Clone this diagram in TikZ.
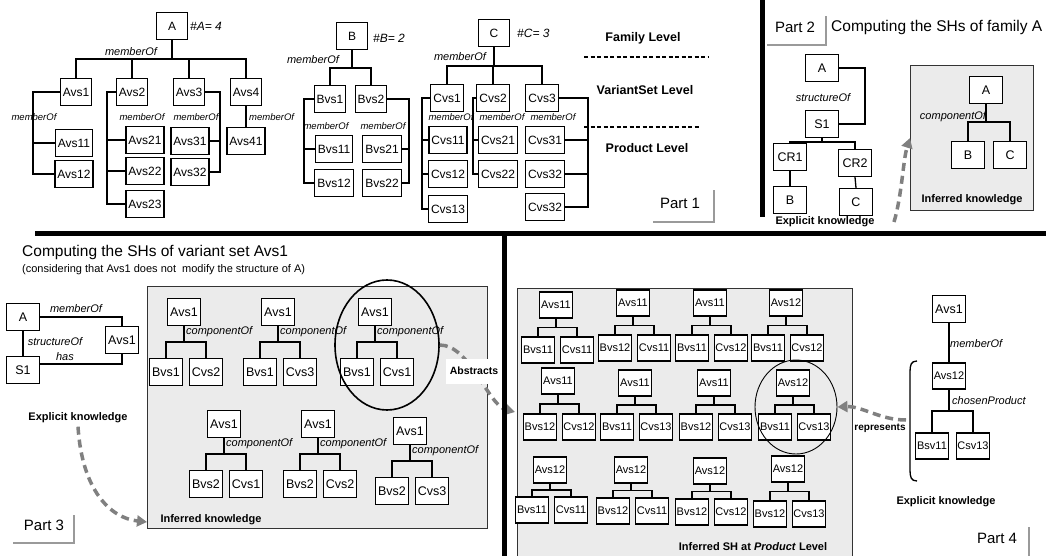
\documentclass[tikz,border=0pt]{standalone}
\usepackage{fontspec}
\setmainfont{Liberation Sans}
\usetikzlibrary{positioning,calc,arrows.meta,shapes.geometric}
\definecolor{flowgray}{HTML}{808080}
\definecolor{panelgray}{HTML}{EBEBEB}
\definecolor{tabgray}{HTML}{9A9A9A}

\begin{document}
\begin{tikzpicture}[x=1pt, y=-1pt,
  fambox/.style={draw, fill=white, line width=1.3pt, inner xsep=2.5pt, inner ysep=0pt, minimum width=31pt, minimum height=27pt, font=\fontsize{12}{14}\selectfont},
  shbox/.style={fambox, inner xsep=1.5pt, minimum width=33pt, font=\fontsize{12.5}{14}\selectfont},
  prodbox/.style={fambox, inner xsep=0.5pt, minimum width=33pt, minimum height=26pt, font=\fontsize{11}{12}\selectfont},
  link/.style={line width=1.3pt},
  rel/.style={font=\fontsize{11}{13}\selectfont\itshape, inner sep=1pt},
  relsm/.style={font=\fontsize{9.5}{11}\selectfont\itshape, inner sep=1pt},
  card/.style={font=\fontsize{12}{14}\selectfont\itshape, anchor=west, inner sep=1pt},
  lvltext/.style={font=\fontsize{12.5}{14}\selectfont\bfseries},
  lvlline/.style={line width=1.6pt, dash pattern=on 4pt off 2.5pt},
  know/.style={font=\fontsize{11}{13}\selectfont\bfseries},
  heading/.style={font=\fontsize{15.5}{17}\selectfont, anchor=west, inner sep=0pt},
  subheading/.style={font=\fontsize{11}{13}\selectfont, anchor=west, inner sep=0pt},
  partlbl/.style={font=\fontsize{15}{17}\selectfont},
  parttab/.style={tabgray, line width=2.5pt},
  divider/.style={line width=5pt},
  panel/.style={draw=black!80, fill=panelgray, line width=1pt, anchor=north west, inner sep=0pt},
  flow/.style={flowgray, line width=3.5pt, dash pattern=on 8pt off 5pt, -{Triangle[length=10pt,width=11pt]}},
  focus/.style={draw, ellipse, inner sep=0pt},
]
\useasboundingbox[fill=white] (0,0) rectangle (1046,556);

% Part 1: family A
\node[fambox] (A) at (172,26) {A};
\node[card] (cardA) at (189,26) {\#A= 4};
\node[rel] (relA) at (131,52) {memberOf};
\foreach \nm/\x in {Avs1/76, Avs2/132, Avs3/189, Avs4/246}
  \node[fambox] (\nm) at (\x,92) {\nm};
\coordinate (busA) at (172,59);
\draw[link] (A.south) -- (busA);
\draw[link] (Avs1.north) |- (busA) -| (Avs4.north);
\draw[link] (Avs2.north) -- (Avs2.north |- busA);
\draw[link] (Avs3.north) -- (Avs3.north |- busA);
\foreach \nm/\x/\y in {Avs11/74/143, Avs12/74/174, Avs21/145/140, Avs22/145/171, Avs23/145/204,
    Avs31/190/141, Avs32/190/172, Avs41/246/141}
  \node[fambox] (\nm) at (\x,\y) {\nm};
\coordinate (railA1) at (33,92);
\draw[link] (Avs1.west) -- (railA1) |- (Avs12.west);
\draw[link] (Avs11.west) -- (Avs11.west -| railA1);
\coordinate (railA2) at (107,92);
\draw[link] (Avs2.west) -- (railA2) |- (Avs23.west);
\foreach \nm in {Avs21, Avs22}
  \draw[link] (\nm.west) -- (\nm.west -| railA2);
\coordinate (railA3) at (220,92);
\draw[link] (Avs3.east) -- (railA3) |- (Avs32.east);
\draw[link] (Avs31.east) -- (Avs31.east -| railA3);
\draw[link] (Avs4.south) -- (Avs41.north);
\node[relsm] (relA1) at (34,117) {memberOf};
\node[relsm] (relA2) at (142,117) {memberOf};
\node[relsm] (relA3) at (196,117) {memberOf};
\node[relsm, anchor=west] (relA4) at (248,117) {memberOf};

% Part 1: family B
\node[fambox] (B) at (352,36) {B};
\node[card] (cardB) at (372,38) {\#B= 2};
\node[rel] (relB) at (313,60) {memberOf};
\foreach \nm/\x in {Bvs1/330, Bvs2/371}
  \node[fambox] (\nm) at (\x,99) {\nm};
\coordinate (busB) at (352,68);
\draw[link] (B.south) -- (busB);
\draw[link] (Bvs1.north) |- (busB) -| (Bvs2.north);
\foreach \nm/\x/\y in {Bvs11/334/149, Bvs12/334/183, Bvs21/382/149, Bvs22/382/183}
  \node[fambox] (\nm) at (\x,\y) {\nm};
\coordinate (railB1) at (304,99);
\draw[link] (Bvs1.west) -- (railB1) |- (Bvs12.west);
\draw[link] (Bvs11.west) -- (Bvs11.west -| railB1);
\coordinate (railB2) at (409,99);
\draw[link] (Bvs2.east) -- (railB2) |- (Bvs22.east);
\draw[link] (Bvs21.east) -- (Bvs21.east -| railB2);
\node[relsm] (relB1) at (326,126) {memberOf};
\node[relsm] (relB2) at (383,126) {memberOf};

% Part 1: family C
\node[fambox] (C) at (494,33) {C};
\node[card] (cardC) at (516,33) {\#C= 3};
\node[rel] (relC) at (460,57) {memberOf};
\foreach \nm/\x in {Cvs1/447, Cvs2/493, Cvs3/542}
  \node[fambox] (\nm) at (\x,98) {\nm};
\coordinate (busC) at (494,66);
\draw[link] (C.south) -- (busC);
\draw[link] (Cvs1.north) |- (busC) -| (Cvs3.north);
\draw[link] (Cvs2.north) -- (Cvs2.north |- busC);
\foreach \nm/\x/\y in {Cvs11/448/140, Cvs12/448/174, Cvs13/448/209, Cvs21/498/140, Cvs22/498/174,
    Cvs31/545/140, Cvs32/545/174}
  \node[fambox] (\nm) at (\x,\y) {\nm};
\node[fambox] (Cvs33) at (545,207) {Cvs32};
\coordinate (railC1) at (422,98);
\draw[link] (Cvs1.west) -- (railC1) |- (Cvs13.west);
\foreach \nm in {Cvs11, Cvs12}
  \draw[link] (\nm.west) -- (\nm.west -| railC1);
\coordinate (railC2) at (473,98);
\draw[link] (Cvs2.west) -- (railC2) |- (Cvs22.west);
\draw[link] (Cvs21.west) -- (Cvs21.west -| railC2);
\coordinate (railC3) at (588,98);
\draw[link] (Cvs3.east) -- (railC3) |- (Cvs33.east);
\foreach \nm in {Cvs31, Cvs32}
  \draw[link] (\nm.east) -- (\nm.east -| railC3);
\node[relsm] (relC1) at (451,117) {memberOf};
\node[relsm] (relC2) at (502,117) {memberOf};
\node[relsm] (relC3) at (553,117) {memberOf};

% levels
\node[lvltext] (famlvl) at (643,38) {Family Level};
\node[lvltext] (vslvl) at (645,90) {VariantSet Level};
\node[lvltext] (prodlvl) at (647,148) {Product Level};
\draw[lvlline] (584,57) -- (708,57);
\draw[lvlline] (584,127) -- (700,127);
\node[partlbl] (part1) at (680,203) {Part 1};
\draw[parttab] (653,222) -- (714,222) -- (714,190);

% Part 2
\node[partlbl] (part2) at (795,27) {Part 2};
\draw[parttab] (767,45) -- (826,45) -- (826,16);
\node[heading] (head2) at (831,27) {Computing the SHs of family A};
\node[shbox] (A2) at (822,68) {A};
\node[shbox] (S2) at (822,124) {S1};
\node[rel] (struct2) at (823,98) {structureOf};
\coordinate (brk2) at (865,68);
\draw[link] (A2.east) -- (brk2) |- (S2.east);
\node[shbox] (CR1) at (790,157) {CR1};
\node[shbox] (CR2) at (855,163) {CR2};
\coordinate (bus2) at (822,142);
\draw[link] (S2.south) -- (bus2);
\draw[link] (CR1.north) |- (bus2) -| (CR2.north);
\node[shbox] (B2) at (790,200) {B};
\node[shbox] (C2) at (856,202) {C};
\draw[link] (CR1.south) -- (B2.north);
\draw[link] (CR2.south) -- (C2.north);
\node[know] (expl2) at (825,222) {Explicit knowledge};
\node[panel, minimum width=123pt, minimum height=145pt] (inf2) at (910,65) {};
\node[shbox] (A2i) at (986,90) {A};
\node[rel] (comp2) at (953,117) {componentOf};
\coordinate (bus2i) at (986,122);
\node[shbox] (B2i) at (968,155) {B};
\node[shbox] (C2i) at (1010,155) {C};
\draw[link] (A2i.south) -- (bus2i);
\draw[link] (B2i.north) |- (bus2i) -| (C2i.north);
\node[know] (inf2txt) at (972,200) {Inferred knowledge};
\coordinate (expl2end) at (894,222);
\draw[flow] (expl2end) .. controls (902,195) and (903,160) .. (inf2.west);

% Part 3
\node[heading] (head3) at (22,252) {Computing the SHs of variant set Avs1};
\node[subheading] (sub3) at (22,270) {(considering that Avs1 does not\ \ modify the structure of A)};
\node[shbox] (A3) at (23,317) {A};
\node[shbox] (S3) at (23,370) {S1};
\node[shbox] (Avs1e) at (122,340) {Avs1};
\draw[link] (A3.south) -- (S3.north);
\draw[link] (A3.east) -| (Avs1e.north);
\draw[link] ([yshift=6pt]S3.east) -| (Avs1e.south);
\node[rel] (struct3) at (55,342) {structureOf};
\node[rel] (member3) at (76,309) {memberOf};
\node[rel] (has3) at (65,357) {has};
\node[know] (expl3) at (78,418) {Explicit knowledge};
\node[panel, minimum width=340pt, minimum height=242pt] (inf3) at (147,286) {};
\node[know, anchor=west] (inf3txt) at (157,520) {Inferred knowledge};
\draw[flow] (expl3.south) .. controls (82,490) and (110,518) .. ([yshift=7pt]inf3.south west);
\foreach \n/\x/\y/\l/\r in {t1/184/312/Bvs1/Cvs2, t2/278/312/Bvs1/Cvs3, t3/375/312/Bvs1/Cvs1,
    t4/224/424/Bvs2/Cvs1, t5/318/424/Bvs2/Cvs2, t6/410/431/Bvs2/Cvs3} {
  \node[shbox] (\n-p) at (\x,\y) {Avs1};
  \node[shbox] (\n-l) at (\x-18,\y+60) {\l};
  \node[shbox] (\n-r) at (\x+22,\y+60) {\r};
  \coordinate (\n-b) at (\x,\y+30);
  \draw[link] (\n-p.south) -- (\n-b);
  \draw[link] (\n-l.north) |- (\n-b) -| (\n-r.north);
  \node[rel, anchor=west] (\n-c) at (\x+1,\y+20) {componentOf};
}
\node[focus, line width=1.6pt, minimum width=104pt, minimum height=130pt] (focus3) at (387,345) {};
\node[partlbl] (part3) at (44,525) {Part 3};
\draw[parttab] (13,543) -- (74,543) -- (74,515);

% Part 4
\node[panel, minimum width=335pt, minimum height=275pt] (inf4) at (517,288) {};
\foreach \n/\x/\y/\cy/\p/\l/\r in {pa/556/305/350/Avs11/Bvs11/Cvs11, pb/633/303/348/Avs11/Bvs12/Cvs11,
    pc/710/303/348/Avs11/Bvs11/Cvs12, pd/786/303/348/Avs12/Bvs11/Cvs12,
    pe/558/381/427/Avs11/Bvs12/Cvs12, pf/635/383/427/Avs11/Bvs11/Cvs13,
    pg/714/383/427/Avs11/Bvs12/Cvs13, ph/793/383/427/Avs12/Bvs11/Cvs13,
    pi/550/470/510/Avs12/Bvs11/Cvs11, pj/631/470/511/Avs12/Bvs12/Cvs11,
    pk/710/471/512/Avs12/Bvs12/Cvs12, pl/788/469/514/Avs12/Bvs12/Cvs13} {
  \node[prodbox] (\n-p) at (\x,\y) {\p};
  \node[prodbox] (\n-l) at (\x-18,\cy) {\l};
  \node[prodbox] (\n-r) at (\x+21,\cy) {\r};
  \coordinate (\n-b) at (\x,{(\y+\cy)/2});
  \draw[link] (\n-p.south) -- (\n-b);
  \draw[link] (\n-l.north) |- (\n-b) -| (\n-r.north);
}
\node[focus, line width=0.9pt, minimum width=82pt, minimum height=94pt] (focus4) at (796,407) {};
\node[know] (inf4txt) at (753,547) {Inferred SH at \textit{Product} Level};

% explicit product choice
\node[shbox] (Avs1r) at (949,309) {Avs1};
\node[prodbox] (Avs12r) at (949,376) {Avs12};
\draw[link] (Avs1r.south) -- (Avs12r.north);
\node[rel, anchor=west] (member4) at (949,344) {memberOf};
\node[rel, anchor=west] (chosen4) at (951,401) {chosenProduct};
\node[prodbox] (Bsv11) at (932,446) {Bsv11};
\node[prodbox] (Csv13) at (973,446) {Csv13};
\coordinate (bus4r) at (949,411);
\draw[link] (Avs12r.south) -- (bus4r);
\draw[link] (Bsv11.north) |- (bus4r) -| (Csv13.north);
\draw[line width=1.3pt] (917,361) .. controls (911,361) and (910,365) .. (910,372) -- (910,470) .. controls (910,477) and (911,481) .. (917,481);
\node[know, font=\fontsize{10}{12}\selectfont\bfseries] (rep4) at (880,428) {represents};
\coordinate (brace4) at (906,420);
\draw[flow] (brace4) .. controls (880,420) and (862,406) .. (focus4.east);
\node[know] (expl4) at (946,502) {Explicit knowledge};
\node[partlbl] (part4) at (997,538) {Part 4};
\draw[parttab] (1029,527) -- (1029,556);

% Abstracts
\coordinate (abs4) at (515,412);
\draw[flow] (focus3.east) .. controls (470,345) and (488,405) .. (abs4);
\node[know, font=\fontsize{10.5}{12}\selectfont\bfseries, fill=white, minimum height=25pt, inner xsep=4pt] (abs) at (474,371) {Abstracts};

% dividers
\draw[divider] (35,233) -- (1046,233);
\draw[divider] (504,233) -- (504,556);
\draw[divider] (762,0) -- (762,217);
\end{tikzpicture}
\end{document}
